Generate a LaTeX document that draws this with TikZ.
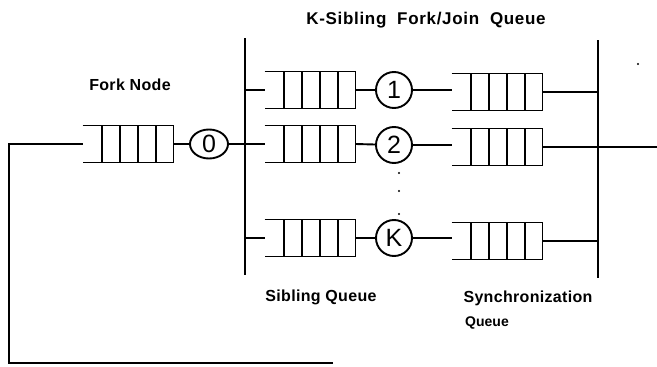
\documentclass[tikz,border=0pt]{standalone}
\usepackage{fontspec}
\setmainfont{Liberation Sans}
\usetikzlibrary{calc,shapes.geometric}

\begin{document}
\begin{tikzpicture}[x=1pt, y=-1pt, line width=1.9pt,
    queue/.style={rectangle, inner sep=0pt, outer sep=0pt,
      minimum width=91pt, minimum height=37pt},
    server/.style={circle, draw, inner sep=0pt, minimum size=36pt,
      font=\fontsize{25}{25}\selectfont},
    lbl/.style={font=\fontsize{16}{16}\selectfont\bfseries
      \addfontfeature{LetterSpace=2}}]
  \useasboundingbox (0,0) rectangle (657,367);

  % fork node
  \node [queue] (fq) at (128,144) {};
  \node [server, ellipse, minimum width=38pt, minimum height=29pt] (c0)
    at (209,144) {0};
  \node [lbl] (forklbl) at (130,85) {Fork Node};

  % the two bars of the K-sibling fork/join queue
  \coordinate (lt) at (245,38); \coordinate (lb) at (245,275);
  \coordinate (rt) at (598,40); \coordinate (rb) at (598,278);
  \draw (lt) -- (lb); \draw (rt) -- (rb);

  % sibling queues and their servers
  \begin{scope}[every node/.style={queue}]
    \node (s1) at (310,90) {}; \node (s2) at (310,144) {};
    \node (sK) at (310,238) {};
    \node (y1) at (497,92) {}; \node (y2) at (497,147) {};
    \node (yK) at (497,241) {};
  \end{scope}
  \begin{scope}[every node/.style={server}]
    \node (c1) at (394,90) {1}; \node (c2) at (394,145) {2};
    \node (cK) at (394,238) {K};
  \end{scope}

  % queue boxes, open on the left
  \foreach \q in {fq,s1,s2,sK,y1,y2,yK} {
    \draw (\q.north west) -- (\q.north east) -- (\q.south east)
      -- (\q.south west);
    \foreach \t in {0.21,0.41,0.61,0.81}
      \draw ($(\q.north west)!\t!(\q.north east)$) --
        ($(\q.south west)!\t!(\q.south east)$);
  }

  % links
  \coordinate (fb) at (9,144); \coordinate (fc) at (9,363);
  \coordinate (fe) at (333,363); \coordinate (out) at (657,147);
  \draw (fe) -- (fc) -- (fb) -- (fq.west);
  \draw (fq.east) -- (c0);
  \draw (c0) -- (s2.west);
  \draw (s1.west -| lt) -- (s1.west);
  \draw (sK.west -| lt) -- (sK.west);
  \foreach \i in {1,2,K} {
    \draw (s\i.east) -- (c\i);
    \draw (c\i) -- (c\i -| y\i.west);
  }
  \draw (y1.east) -- (y1.east -| rt);
  \draw (y2.east) -- (out);
  \draw (yK.east) -- (yK.east -| rt);

  % dots between the servers
  \foreach \y [count=\n] in {173,191,214}
    \fill (399,\y) circle (1.2pt) coordinate (d\n);
  \fill (638,64) circle (1.2pt) coordinate (spot);

  \node [lbl, font=\fontsize{17}{17}\selectfont\bfseries
    \addfontfeature{LetterSpace=4}] (kfj) at (426,20)
    {K-Sibling\ \ Fork/Join\ \ Queue};
  \node [lbl] (sib) at (321,297) {Sibling Queue};
  \node [lbl] (sync) at (528,298) {Synchronization};
  \node [font=\fontsize{14}{14}\selectfont\bfseries] (syncq) at (487,323)
    {Queue};
\end{tikzpicture}
\end{document}
